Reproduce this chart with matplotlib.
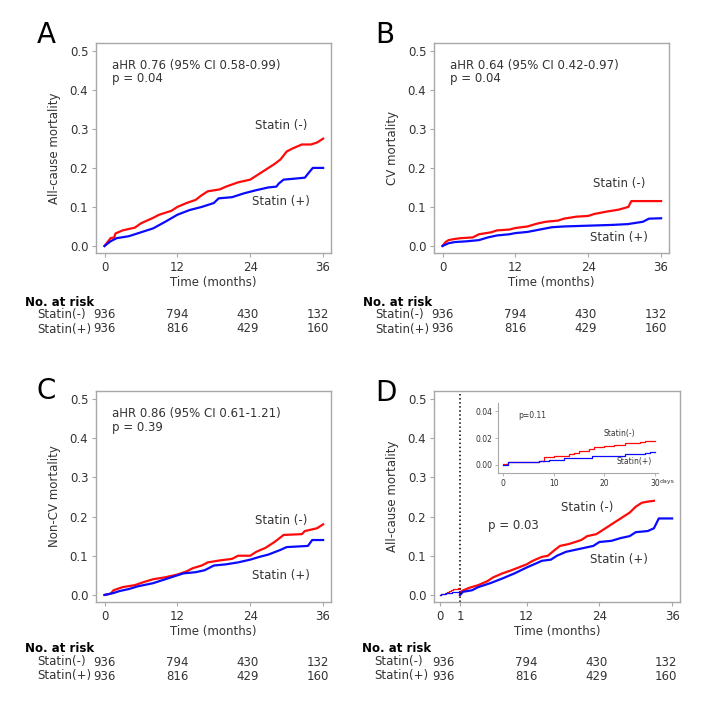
import numpy as np
import matplotlib
matplotlib.use("Agg")
import matplotlib.pyplot as plt
import matplotlib.transforms as mtransforms

plt.rcParams['font.family'] = 'DejaVu Sans'
plt.rcParams['font.size'] = 8.5

RED = '#ff0a0a'
BLUE = '#0a0aff'
GREY = '#a8a8a8'
TXT = '#333333'

# ---- data (months, cumulative mortality) ----
# A: all-cause mortality
a_neg_t = [0, 0.5, 1, 1.6, 1.8, 3, 5, 6, 8, 9, 11, 12, 13.5, 15, 16, 17, 19, 20, 22, 24, 25, 26, 27, 28, 29, 30, 31, 32.5, 34, 35, 36]
a_neg_y = [0, 0.01, 0.02, 0.022, 0.032, 0.04, 0.047, 0.058, 0.072, 0.08, 0.09, 0.1, 0.11, 0.118, 0.13, 0.14, 0.145, 0.152, 0.163, 0.17, 0.18, 0.19, 0.2, 0.21, 0.222, 0.242, 0.25, 0.26, 0.26, 0.265, 0.275]
a_pos_t = [0, 1, 2, 4, 6, 8, 10, 12, 14, 16, 18, 18.8, 21, 23, 25, 27, 28.3, 28.7, 29.5, 31, 33, 33.5, 34.3, 36]
a_pos_y = [0, 0.012, 0.02, 0.025, 0.035, 0.045, 0.062, 0.08, 0.092, 0.1, 0.11, 0.122, 0.125, 0.135, 0.143, 0.15, 0.152, 0.16, 0.17, 0.172, 0.175, 0.185, 0.2, 0.2]

# B: CV mortality
b_neg_t = [0, 0.5, 1, 2, 3, 5, 6, 8, 9, 11, 12, 14, 15.5, 17, 19, 20, 22, 24, 25, 27, 29, 30.6, 31.1, 36]
b_neg_y = [0, 0.01, 0.015, 0.018, 0.02, 0.022, 0.03, 0.035, 0.04, 0.042, 0.046, 0.05, 0.057, 0.062, 0.065, 0.07, 0.075, 0.077, 0.082, 0.088, 0.093, 0.1, 0.115, 0.115]
b_pos_t = [0, 1, 2, 4, 6, 7.5, 9, 11, 12, 14, 16, 18, 20, 24, 28, 30.5, 33, 34, 36]
b_pos_y = [0, 0.007, 0.01, 0.012, 0.015, 0.022, 0.027, 0.03, 0.033, 0.036, 0.042, 0.048, 0.05, 0.052, 0.054, 0.056, 0.062, 0.07, 0.071]

# C: non-CV mortality
c_neg_t = [0, 1, 1.5, 3, 5, 6.5, 8, 10, 12, 13.5, 14.5, 16, 17, 19, 21, 22, 24, 25, 26.5, 28, 29.5, 32.5, 33, 35, 36]
c_neg_y = [0, 0.003, 0.012, 0.02, 0.025, 0.033, 0.04, 0.045, 0.052, 0.06, 0.068, 0.075, 0.083, 0.088, 0.092, 0.1, 0.1, 0.11, 0.12, 0.135, 0.153, 0.155, 0.163, 0.17, 0.18]
c_pos_t = [0, 1.5, 2.5, 4, 5.5, 8, 10, 12, 13, 15, 16.5, 18, 20, 22, 24, 25.5, 27, 29, 30, 33.5, 34.2, 36]
c_pos_y = [0, 0.005, 0.01, 0.015, 0.022, 0.03, 0.04, 0.05, 0.055, 0.058, 0.063, 0.075, 0.078, 0.083, 0.09, 0.097, 0.103, 0.115, 0.122, 0.125, 0.14, 0.14]

# D: landmark analysis after month 1
d_neg_t = [1, 1.3, 2.5, 4, 5.5, 6.5, 8, 9.5, 11, 12, 13, 14.5, 15.5, 16.5, 17.5, 19, 21, 22, 23.5, 25, 26, 27, 28, 29, 30, 31, 32, 33]
d_neg_y = [0, 0.01, 0.018, 0.025, 0.035, 0.045, 0.055, 0.063, 0.072, 0.078, 0.087, 0.097, 0.1, 0.113, 0.125, 0.13, 0.14, 0.15, 0.155, 0.17, 0.18, 0.19, 0.2, 0.21, 0.225, 0.235, 0.238, 0.24]
d_pos_t = [1, 1.5, 3, 4, 6, 8, 10, 12, 13.5, 14.5, 16, 17, 18.5, 20, 21.5, 23, 24, 26, 27.5, 29, 30, 32, 33, 33.8, 36]
d_pos_y = [0, 0.008, 0.012, 0.02, 0.03, 0.042, 0.055, 0.07, 0.08, 0.087, 0.09, 0.1, 0.11, 0.115, 0.12, 0.125, 0.135, 0.138, 0.145, 0.15, 0.16, 0.163, 0.17, 0.195, 0.195]

# first 30 days (inset of D)
day_neg_t = [0, 1, 4, 7, 8, 10, 11, 13, 14, 15, 17, 18, 20, 22, 24, 27, 28, 30]
day_neg_y = [0.001, 0.002, 0.0025, 0.003, 0.006, 0.0065, 0.007, 0.008, 0.009, 0.01, 0.012, 0.013, 0.014, 0.015, 0.016, 0.017, 0.018, 0.018]
day_pos_t = [0, 1, 7, 9, 12, 17.5, 19, 24, 28, 29, 30]
day_pos_y = [0, 0.002, 0.003, 0.004, 0.005, 0.0065, 0.007, 0.008, 0.009, 0.0095, 0.0095]

# numbers at risk
risk_times = [0, 12, 24, 36]
risk_neg = [936, 794, 430, 132]
risk_pos = [936, 816, 429, 160]


def px(v):
    return v / 708.0


fig = plt.figure(figsize=(7.08, 7.08), dpi=100)


def style_axes(ax):
    for s in ax.spines.values():
        s.set_color(GREY)
        s.set_linewidth(1.0)
    ax.tick_params(colors=GREY, labelcolor=TXT, length=3, width=0.8, labelsize=8.5, pad=2.5)
    ax.set_ylim(-0.018, 0.52)
    ax.set_yticks([0, 0.1, 0.2, 0.3, 0.4, 0.5])
    ax.set_yticklabels(['0.0', '0.1', '0.2', '0.3', '0.4', '0.5'])
    ax.set_xlabel('Time (months)', color=TXT, labelpad=2)


def risk_table(ax, x_label, y_top, xs):
    trans = mtransforms.blended_transform_factory(ax.transData, fig.transFigure)
    fig.text(px(x_label), 1 - px(y_top), 'No. at risk', weight='bold', va='center', color='black')
    fig.text(px(x_label + 12), 1 - px(y_top + 13), 'Statin(-)', va='center', color=TXT)
    fig.text(px(x_label + 12), 1 - px(y_top + 27), 'Statin(+)', va='center', color=TXT)
    for x, n1, n2 in zip(xs, risk_neg, risk_pos):
        ax.text(x, 1 - px(y_top + 13), str(n1), transform=trans, ha='center', va='center', color=TXT)
        ax.text(x, 1 - px(y_top + 27), str(n2), transform=trans, ha='center', va='center', color=TXT)


def km_panel(rect, letter, letter_y, ylabel, neg, pos, hr_text, p_text, lab_neg, lab_pos):
    ax = fig.add_axes(rect)
    ax.plot(neg[0], neg[1], color=RED, lw=1.6)
    ax.plot(pos[0], pos[1], color=BLUE, lw=1.6)
    style_axes(ax)
    ax.set_xlim(-1.4, 37.3)
    ax.set_xticks([0, 12, 24, 36])
    ax.set_ylabel(ylabel, color=TXT, labelpad=6)
    ax.text(1.3, 0.462, hr_text, va='center', color=TXT)
    ax.text(1.3, 0.428, p_text, va='center', color=TXT)
    ax.text(29.1, lab_neg, 'Statin (-)', ha='center', va='center', color=TXT)
    ax.text(29.1, lab_pos, 'Statin (+)', ha='center', va='center', color=TXT)
    ax.text(-0.21, letter_y, letter, transform=ax.transAxes, fontsize=20, va='center', ha='center')
    return ax


axA = km_panel([px(96), px(708 - 253), px(235), px(210)], 'A', 1.04, 'All-cause mortality',
               (a_neg_t, a_neg_y), (a_pos_t, a_pos_y),
               'aHR 0.76 (95% CI 0.58-0.99)', 'p = 0.04', 0.308, 0.113)
risk_table(axA, 25, 302, [0, 12, 23.6, 35.1])

axB = km_panel([px(434), px(708 - 253), px(235), px(210)], 'B', 1.04, 'CV mortality',
               (b_neg_t, b_neg_y), (b_pos_t, b_pos_y),
               'aHR 0.64 (95% CI 0.42-0.97)', 'p = 0.04', 0.159, 0.021)
risk_table(axB, 25 + 338, 302, [0, 12, 23.6, 35.1])

axC = km_panel([px(96), px(708 - 602), px(235), px(211)], 'C', 1.0, 'Non-CV mortality',
               (c_neg_t, c_neg_y), (c_pos_t, c_pos_y),
               'aHR 0.86 (95% CI 0.61-1.21)', 'p = 0.39', 0.19, 0.049)
risk_table(axC, 25, 649, [0, 12, 23.6, 35.1])

# ---- D: stretched first month ----
def fwd(x):
    x = np.asarray(x, dtype=float)
    return np.where(x <= 1, x * 3.3, x + 2.3)


def inv(x):
    x = np.asarray(x, dtype=float)
    return np.where(x <= 3.3, x / 3.3, x - 2.3)


axD = fig.add_axes([px(434), px(708 - 602), px(246), px(211)])
axD.set_xscale('function', functions=(fwd, inv))
# first month, same curves as the inset (days -> months)
axD.step(np.array(day_neg_t) / 30.0, day_neg_y, where='post', color=RED, lw=0.9)
axD.step(np.array(day_pos_t) / 30.0, day_pos_y, where='post', color=BLUE, lw=0.9)
axD.plot(d_neg_t, d_neg_y, color=RED, lw=1.6)
axD.plot(d_pos_t, d_pos_y, color=BLUE, lw=1.6)
axD.axvline(1, color='black', ls=':', lw=1.1)
style_axes(axD)
axD.set_xlim(-0.3, 37.3)
axD.set_xticks([0, 1, 12, 24, 36])
axD.set_xticklabels(['0', '1', '12', '24', '36'])
axD.minorticks_off()
axD.set_ylabel('All-cause mortality', color=TXT, labelpad=6)
axD.text(9.75, 0.178, 'p = 0.03', ha='center', va='center', color=TXT)
axD.text(22.0, 0.222, 'Statin (-)', ha='center', va='center', color=TXT)
axD.text(27.2, 0.09, 'Statin (+)', ha='center', va='center', color=TXT)
axD.text(-0.195, 0.99, 'D', transform=axD.transAxes, fontsize=20, va='center', ha='center')
risk_table(axD, 25 + 337, 649, [0.15, 12, 23.6, 35.0])

# inset, first 30 days
axI = fig.add_axes([px(498), px(708 - 473), px(160), px(70)])
axI.step(day_neg_t, day_neg_y, where='post', color=RED, lw=0.9)
axI.step(day_pos_t, day_pos_y, where='post', color=BLUE, lw=0.9)
axI.set_xlim(-1, 30.6)
axI.set_ylim(-0.006, 0.046)
axI.set_xticks([0, 10, 20, 30])
axI.set_yticks([0, 0.02, 0.04])
axI.set_yticklabels(['0.00', '0.02', '0.04'])
axI.spines['top'].set_visible(False)
axI.spines['right'].set_visible(False)
for s in ['left', 'bottom']:
    axI.spines[s].set_color(GREY)
    axI.spines[s].set_linewidth(0.8)
axI.tick_params(colors=GREY, labelcolor=TXT, length=2, width=0.6, labelsize=5.5, pad=2)
axI.patch.set_alpha(0)
axI.text(3, 0.037, 'p=0.11', fontsize=5.5, va='center', color=TXT)
axI.text(23.0, 0.0235, 'Statin(-)', fontsize=5.5, ha='center', va='center', color=TXT)
axI.text(25.8, 0.0022, 'Statin(+)', fontsize=5.5, ha='center', va='center', color=TXT)
axI.text(31.0, -0.0125, 'days', fontsize=4.5, va='center', color=TXT)

fig.savefig('out.png', dpi=100)
